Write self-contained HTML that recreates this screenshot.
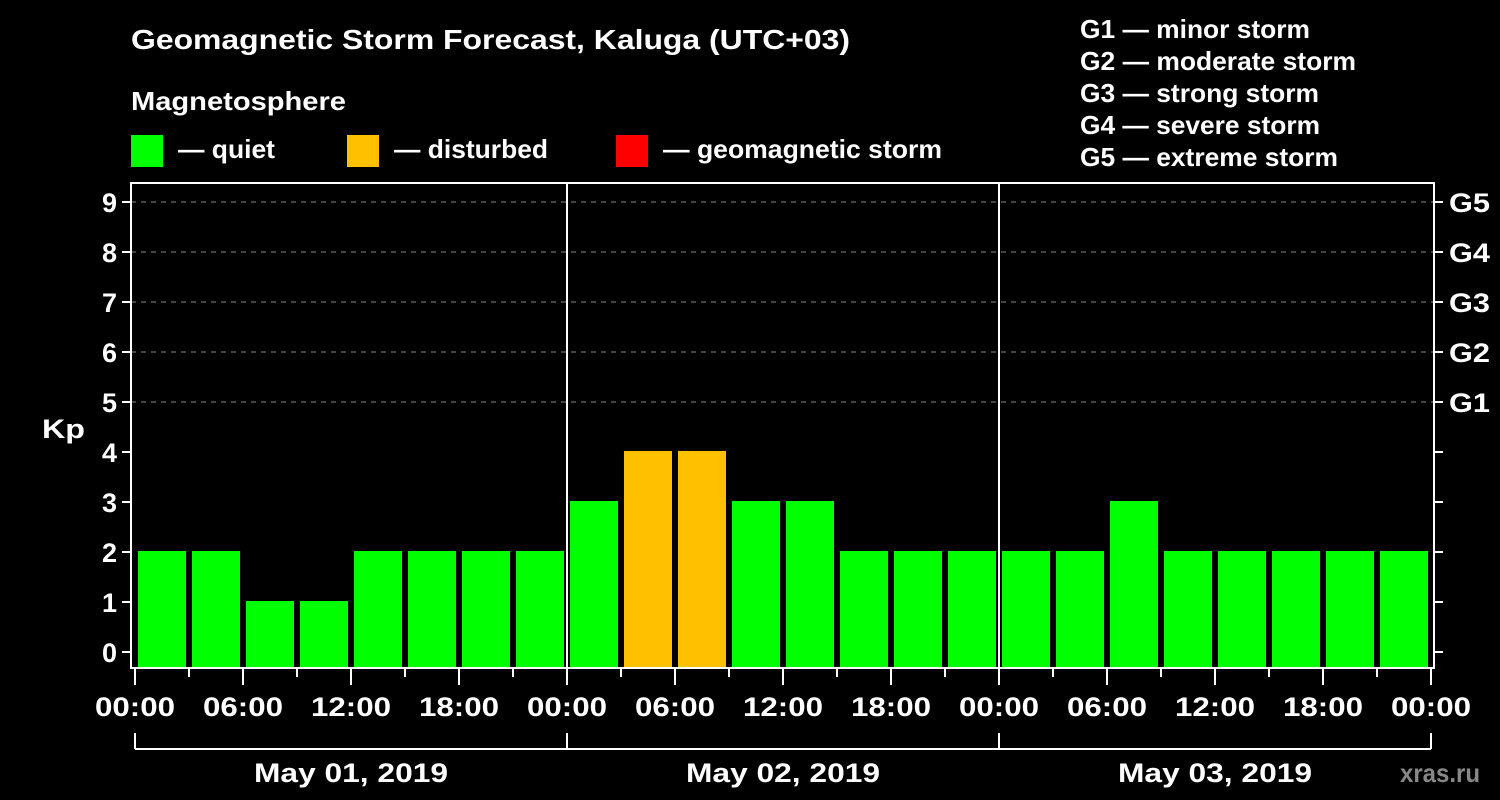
<!DOCTYPE html>
<html><head><meta charset="utf-8"><style>
body{margin:0;background:#000;}
svg{display:block;font-family:"Liberation Sans",Arial,sans-serif;font-weight:bold;}
</style></head><body>
<svg id="c" width="1500" height="800" viewBox="0 0 1500 800">
<rect width="1500" height="800" fill="#000"/>
<text x="131" y="49" fill="#fff" font-size="28" textLength="719" lengthAdjust="spacingAndGlyphs">Geomagnetic Storm Forecast, Kaluga (UTC+03)</text>
<text x="131" y="110" fill="#fff" font-size="26" textLength="215" lengthAdjust="spacingAndGlyphs">Magnetosphere</text>
<g><rect x="131" y="135" width="32" height="32" fill="#00ff00"/><text x="178" y="158" fill="#fff" font-size="26" textLength="97" lengthAdjust="spacingAndGlyphs">— quiet</text></g>
<g><rect x="347" y="135" width="32" height="32" fill="#ffc000"/><text x="394" y="158" fill="#fff" font-size="26" textLength="154" lengthAdjust="spacingAndGlyphs">— disturbed</text></g>
<g><rect x="616" y="135" width="32" height="32" fill="#ff0000"/><text x="663" y="158" fill="#fff" font-size="26" textLength="279" lengthAdjust="spacingAndGlyphs">— geomagnetic storm</text></g>
<g fill="#fff" font-size="26">
<text x="1080" y="38" textLength="230" lengthAdjust="spacingAndGlyphs">G1 — minor storm</text>
<text x="1080" y="70" textLength="276" lengthAdjust="spacingAndGlyphs">G2 — moderate storm</text>
<text x="1080" y="102" textLength="239" lengthAdjust="spacingAndGlyphs">G3 — strong storm</text>
<text x="1080" y="134" textLength="240" lengthAdjust="spacingAndGlyphs">G4 — severe storm</text>
<text x="1080" y="166" textLength="258" lengthAdjust="spacingAndGlyphs">G5 — extreme storm</text>
</g>
<text x="42" y="438" fill="#fff" font-size="27" textLength="43" lengthAdjust="spacingAndGlyphs">Kp</text>
<text x="1400" y="782" fill="#888" font-size="26" textLength="80" lengthAdjust="spacingAndGlyphs">xras.ru</text>
<g id="grid"></g><g id="bars"></g><g id="axes"></g>
</svg>
<script>
const kpValues=[2,2,1,1,2,2,2,2, 3,4,4,3,3,2,2,2, 2,2,3,2,2,2,2,2];
const dayLabels=["May 01, 2019","May 02, 2019","May 03, 2019"];
const hourLabels=["00:00","06:00","12:00","18:00"];
const gLabels=["G1","G2","G3","G4","G5"];
const NS="http://www.w3.org/2000/svg";
const x0=135,pxPerSlot=54,yZero=652,pxPerKp=50,plotTop=183,plotBottom=668,plotLeft=131,plotRight=1434;
const X=i=>x0+i*pxPerSlot;
const Y=k=>yZero-k*pxPerKp;
function mk(t,a,p){const e=document.createElementNS(NS,t);for(const k in a)e.setAttribute(k,a[k]);p.appendChild(e);return e;}
const grid=document.getElementById('grid'),bars=document.getElementById('bars'),axes=document.getElementById('axes');
for(let k=5;k<=9;k++){const l=mk('line',{x1:plotLeft,x2:plotRight,y1:Y(k),y2:Y(k),stroke:'#888','stroke-dasharray':'5,5','stroke-width':1},grid);

}
kpValues.forEach((v,i)=>{const c=v>=5?'#ff0000':(v>=4?'#ffc000':'#00ff00');
const r=mk('rect',{x:X(i)+3,y:Y(v)-1,width:48,height:plotBottom-Y(v)+1,fill:c},bars);

});
const f=mk('rect',{x:plotLeft,y:plotTop,width:plotRight-plotLeft,height:plotBottom-plotTop,fill:'none',stroke:'#fff','stroke-width':2},axes);


for(let d=1;d<dayLabels.length;d++){const l=mk('line',{x1:X(d*8),x2:X(d*8),y1:plotTop,y2:plotBottom,stroke:'#fff','stroke-width':2},axes);

}
for(let k=0;k<=9;k++){
mk('line',{x1:plotLeft-9,x2:plotLeft,y1:Y(k),y2:Y(k),stroke:'#fff','stroke-width':2},axes);
mk('line',{x1:plotRight,x2:plotRight+9,y1:Y(k),y2:Y(k),stroke:'#fff','stroke-width':2},axes);
const t=mk('text',{x:117,y:Y(k)+10,fill:'#fff','font-size':27,'text-anchor':'end'},axes);t.textContent=k;


if(k>=5){const g=mk('text',{x:1449,y:Y(k)+10,fill:'#fff','font-size':27,textLength:41,lengthAdjust:'spacingAndGlyphs'},axes);g.textContent=gLabels[k-5];

}}
for(let i=0;i<=kpValues.length;i++){const maj=i%2==0;
mk('line',{x1:X(i),x2:X(i),y1:plotBottom,y2:maj?685:677,stroke:'#fff','stroke-width':2},axes);
if(maj){const t=mk('text',{x:X(i)-40,y:716,fill:'#fff','font-size':27,textLength:80,lengthAdjust:'spacingAndGlyphs'},axes);t.textContent=hourLabels[(i/2)%4];

}}
mk('line',{x1:X(0),x2:X(kpValues.length),y1:749,y2:749,stroke:'#fff','stroke-width':2},axes);
for(let d=0;d<=dayLabels.length;d++)mk('line',{x1:X(d*8),x2:X(d*8),y1:733,y2:749,stroke:'#fff','stroke-width':2},axes);
dayLabels.forEach((s,d)=>{const t=mk('text',{x:X(d*8+4)-97,y:782,fill:'#fff','font-size':27,textLength:194,lengthAdjust:'spacingAndGlyphs'},axes);t.textContent=s;

});
</script>
</body></html>
